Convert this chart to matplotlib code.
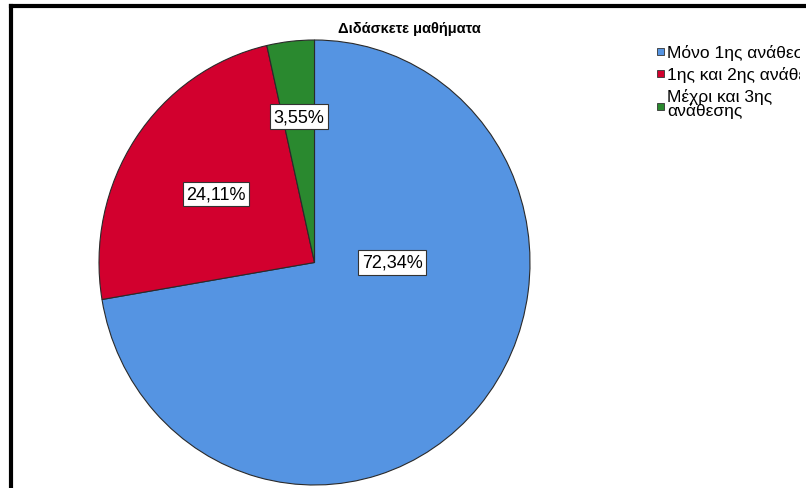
import matplotlib
matplotlib.use("Agg")
import matplotlib.pyplot as plt
from matplotlib.patches import Rectangle
import numpy as np

plt.rcParams['font.family'] = ['Liberation Sans', 'DejaVu Sans']

title = "Διδάσκετε μαθήματα"
categories = ["Μόνο 1ης ανάθεσης", "1ης και 2ης ανάθεσης", "Μέχρι και 3ης\nανάθεσης"]
values = [72.34, 24.11, 3.55]
colors = ["#5594e2", "#d2002e", "#2a892f"]

W, H = 806, 489
fig = plt.figure(figsize=(W / 100, H / 100), dpi=100)

def fx(px):
    return px / W

def fy(py):
    return 1 - py / H

# pie axes spanning the pie's bounding box
left, right, top, bottom = 99, 530, 41, 486
ax = fig.add_axes([fx(left), fy(bottom), fx(right - left), fy(top) - fy(bottom)])
wedges, _ = ax.pie(values, colors=colors, startangle=90, counterclock=False,
                   wedgeprops=dict(edgecolor="#2a2a2a", linewidth=0.8))
ax.set_aspect('auto')
ax.set_xlim(-1, 1)
ax.set_ylim(-1, 1)
ax.axis('off')

# label placement (layout): radius fraction and optional angle override
label_r = [0.36, 0.55, 0.66]
label_ang = [0.0, None, None]
for w, v, r, a in zip(wedges, values, label_r, label_ang):
    ang = a if a is not None else (w.theta1 + w.theta2) / 2
    x = r * np.cos(np.radians(ang))
    y = r * np.sin(np.radians(ang))
    ax.text(x, y, f"{v:.2f}%".replace('.', ','), ha='center', va='center',
            fontsize=13, color='black',
            bbox=dict(boxstyle='square,pad=0.2', fc='white', ec='#333333', lw=0.8))

fig.text(fx(409), fy(29), title, ha='center', va='center', fontsize=10.5,
         fontweight='bold')

# frame (top and left borders)
fig.add_artist(plt.Line2D([fx(10.5), 1.0], [fy(7), fy(7)], color='black', lw=3.0))
fig.add_artist(plt.Line2D([fx(10.5), fx(10.5)], [fy(7), 0], color='black', lw=3.0))

# legend
clip = Rectangle((0, 0), fx(800), 1, transform=fig.transFigure, visible=False)
fig.add_artist(clip)
legend_y = [53, 75, 104]
square_y = [52, 74, 107]
for c, lab, y, sy in zip(colors, categories, legend_y, square_y):
    fig.add_artist(Rectangle((fx(657), fy(sy + 3.5)), fx(7), fy(sy - 3.5) - fy(sy + 3.5),
                             transform=fig.transFigure, fc=c, ec='#333333', lw=0.6))
    t = fig.text(fx(667), fy(y), lab, ha='left', va='center', fontsize=12.5,
                 linespacing=0.8)
    t.set_clip_path(clip)

fig.savefig("out.png", dpi=100)
